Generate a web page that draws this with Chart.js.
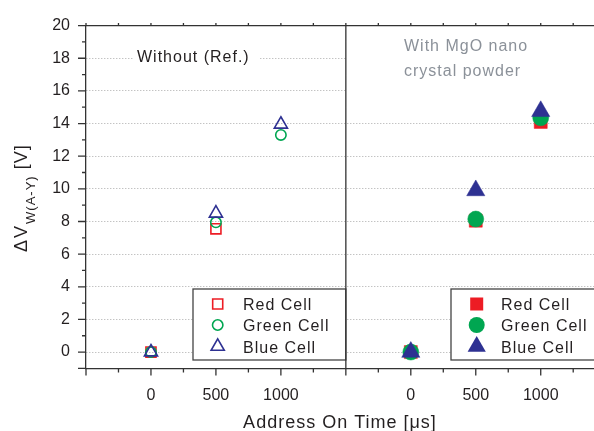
<!DOCTYPE html>
<html>
<head>
<meta charset="utf-8">
<script src="https://cdn.jsdelivr.net/npm/chart.js@4"></script>
<style>
html, body { margin: 0; padding: 0; background: #fff; }
#wrap { width: 594px; height: 431px; }
</style>
</head>
<body>
<div id="wrap"><canvas id="myChart" width="594" height="431"></canvas></div>
<script>
// address on time (us), same three settings in both panels
const timeUs = [0, 500, 1000];

// left panel: without MgO (reference), open markers
const refRed = [0, 7.55, null];
const refGreen = [0, 7.95, 13.3];
const refBlue = [0, 8.5, 13.95];

// right panel: with MgO nano crystal powder, filled markers
const mgoRed = [0, 8.05, 14.1];
const mgoGreen = [0, 8.15, 14.35];
const mgoBlue = [0, 9.9, 14.75];

const seriesNames = ['Red Cell', 'Green Cell', 'Blue Cell'];
const xTickLabels = [0, 500, 1000];
const panelNotes = [['Without (Ref.)'], ['With MgO nano', 'crystal powder']];

const ctx = document.getElementById('myChart').getContext('2d');
const FONT = '"Liberation Sans", Arial, Helvetica, sans-serif';
const INK = '#231f20';

const panelShift = 2000; // right panel lives on the same x axis, shifted
const colors = ['#ed1c24', '#00a651', '#2e3192'];
const shapes = ['rect', 'circle', 'triangle'];
const openSize = [7.1, 5.2, 7.6];
const fillSize = [9.2, 8, 10.5];

function toPoints(vals, shift) {
    return timeUs.map((t, i) => ({ x: t + shift, y: vals[i] })).filter(p => p.y !== null);
}

const datasets = [];
[refRed, refGreen, refBlue].forEach((vals, i) => datasets.push({
    label: seriesNames[i] + ' (Ref.)',
    data: toPoints(vals, 0),
    pointStyle: shapes[i],
    pointRadius: openSize[i],
    pointBackgroundColor: 'rgba(0,0,0,0)',
    pointBorderColor: colors[i],
    pointBorderWidth: 1.6,
    showLine: false,
    order: 3 - i
}));
[mgoRed, mgoGreen, mgoBlue].forEach((vals, i) => datasets.push({
    label: seriesNames[i] + ' (MgO)',
    data: toPoints(vals, panelShift),
    pointStyle: shapes[i],
    pointRadius: fillSize[i],
    pointBackgroundColor: colors[i],
    pointBorderColor: colors[i],
    pointBorderWidth: 0.5,
    showLine: false,
    order: 3 - i
}));

// same shapes as chart.js draws them
function drawMarker(c, style, r, x, y, filled, color) {
    c.beginPath();
    if (style === 'circle') {
        c.arc(x, y, r, 0, Math.PI * 2);
    } else if (style === 'rect') {
        const s = r * Math.SQRT1_2;
        c.rect(x - s, y - s, 2 * s, 2 * s);
    } else {
        let rad = 0;
        c.moveTo(x + Math.sin(rad) * r, y - Math.cos(rad) * r);
        rad += Math.PI * 2 / 3;
        c.lineTo(x + Math.sin(rad) * r, y - Math.cos(rad) * r);
        rad += Math.PI * 2 / 3;
        c.lineTo(x + Math.sin(rad) * r, y - Math.cos(rad) * r);
        c.closePath();
    }
    if (filled) {
        c.fillStyle = color;
        c.fill();
    } else {
        c.lineWidth = 1.6;
        c.strokeStyle = color;
        c.stroke();
    }
}

function drawLegend(c, box, markerX, textX, filled) {
    c.fillStyle = '#fff';
    c.fillRect(box[0], box[1], box[2] - box[0], box[3] - box[1]);
    c.lineWidth = 1.3;
    c.strokeStyle = '#444';
    c.strokeRect(box[0], box[1], box[2] - box[0], box[3] - box[1]);
    const rows = [310, 331, 352.5];
    seriesNames.forEach((name, i) => {
        drawMarker(c, shapes[i], filled ? fillSize[i] : openSize[i], markerX, rows[i] - 6, filled, colors[i]);
        c.fillStyle = INK;
        c.font = '16px ' + FONT;
        c.letterSpacing = '1px';
        c.textBaseline = 'alphabetic';
        c.textAlign = 'left';
        c.fillText(name, textX, rows[i]);
        c.letterSpacing = '0px';
    });
}

const panelDecor = {
    id: 'panelDecor',
    beforeDatasetsDraw(chart) {
        const c = chart.ctx;
        const a = chart.chartArea;
        const mid = chart.scales.x.getPixelForValue(1500);
        c.save();
        // notes sit on white, hiding the grid behind them
        c.fillStyle = '#fff';
        c.fillRect(133, 40, 126, 28);
        c.fillRect(mid + 1, a.top + 1, a.right - mid, 72);
        c.font = '16px ' + FONT;
        c.letterSpacing = '1px';
        c.textAlign = 'left';
        c.textBaseline = 'alphabetic';
        c.fillStyle = INK;
        c.fillText(panelNotes[0][0], 137, 61.5);
        c.fillStyle = '#8b9199';
        c.fillText(panelNotes[1][0], 404, 50.5);
        c.fillText(panelNotes[1][1], 404, 76);
        c.letterSpacing = '0px';
        drawLegend(c, [193, 289, mid, 360], 217.7, 243, false);
        drawLegend(c, [451, 289, a.right + 5, 360], 476.7, 501, true);
        c.restore();
    },
    afterDraw(chart) {
        const c = chart.ctx;
        const a = chart.chartArea;
        const x = chart.scales.x;
        const y = chart.scales.y;
        const mid = x.getPixelForValue(1500);
        c.save();
        c.strokeStyle = '#333';
        c.lineWidth = 1.3;
        c.beginPath();
        // top frame and panel divider
        c.moveTo(a.left, a.top);
        c.lineTo(a.right, a.top);
        c.moveTo(mid, a.top);
        c.lineTo(mid, a.bottom);
        // y tick marks, long on even values
        for (let v = -1; v <= 20; v++) {
            const py = y.getPixelForValue(v);
            const len = (v % 2 === 0 || v === -1) ? 8 : 4;
            c.moveTo(a.left - len, py);
            c.lineTo(a.left, py);
        }
        // x tick marks, bottom and top
        for (let v = -500; v <= 3500; v += 250) {
            const px = x.getPixelForValue(v);
            if (px > a.right + 1) break;
            const len = (v % 500 === 0) ? 7 : 4;
            c.moveTo(px, a.bottom);
            c.lineTo(px, a.bottom + len);
            c.moveTo(px, a.top);
            c.lineTo(px, a.top - 2.5);
        }
        c.stroke();

        // axis titles
        c.fillStyle = INK;
        c.textBaseline = 'alphabetic';
        c.textAlign = 'center';
        c.font = '18px ' + FONT;
        c.letterSpacing = '1px';
        c.fillText('Address On Time [\u03bcs]', (a.left + a.right) / 2, 428);

        c.translate(27, 252);
        c.rotate(-Math.PI / 2);
        c.textAlign = 'left';
        let pos = 0;
        c.font = '18px ' + FONT;
        c.letterSpacing = '2px';
        c.fillText('\u0394V', pos, 0);
        pos += c.measureText('\u0394V').width;
        c.font = '13px ' + FONT;
        c.letterSpacing = '1px';
        c.fillText('W(A-Y)', pos, 8);
        pos += c.measureText('W(A-Y)').width;
        c.font = '18px ' + FONT;
        c.letterSpacing = '1px';
        c.fillText(' [V]', pos, 0);
        c.restore();
    }
};

const myChart = new Chart(ctx, {
    type: 'scatter',
    data: { datasets: datasets },
    options: {
        responsive: false,
        animation: false,
        layout: { autoPadding: false, padding: { top: 24, right: 0, left: 0, bottom: 0 } },
        plugins: {
            legend: { display: false },
            tooltip: { enabled: false }
        },
        scales: {
            x: {
                type: 'linear',
                min: -500,
                max: 3410,
                afterFit: s => {
                    s.height = 62.6;
                    s.paddingLeft = 0;
                    s.paddingRight = 0;
                },
                grid: { display: true, drawTicks: true, tickLength: 18, tickColor: 'rgba(0,0,0,0)', color: 'rgba(0,0,0,0)' },
                border: { display: true, color: '#333', width: 1.3 },
                ticks: {
                    stepSize: 250,
                    autoSkip: false,
                    maxRotation: 0,
                    padding: 0,
                    color: INK,
                    font: { family: FONT, size: 16 },
                    callback: v => {
                        const t = v > 1500 ? v - panelShift : v;
                        return (v !== 1500 && xTickLabels.includes(t)) ? String(t) : '';
                    }
                }
            },
            y: {
                min: -1,
                max: 20,
                afterFit: s => { s.width = 86; },
                grid: {
                    drawTicks: false,
                    lineWidth: 1,
                    color: c => (c.tick && c.tick.value % 2 === 0 && c.tick.value >= 0 && c.tick.value < 20) ? '#aaaaaa' : 'rgba(0,0,0,0)'
                },
                border: { display: true, color: '#333', width: 1.3, dash: [1, 2] },
                ticks: {
                    stepSize: 1,
                    autoSkip: false,
                    padding: 16,
                    color: INK,
                    font: { family: FONT, size: 16 },
                    callback: v => (v % 2 === 0 && v >= 0) ? String(v) : ''
                }
            }
        }
    },
    plugins: [panelDecor]
});
</script>
</body>
</html>
